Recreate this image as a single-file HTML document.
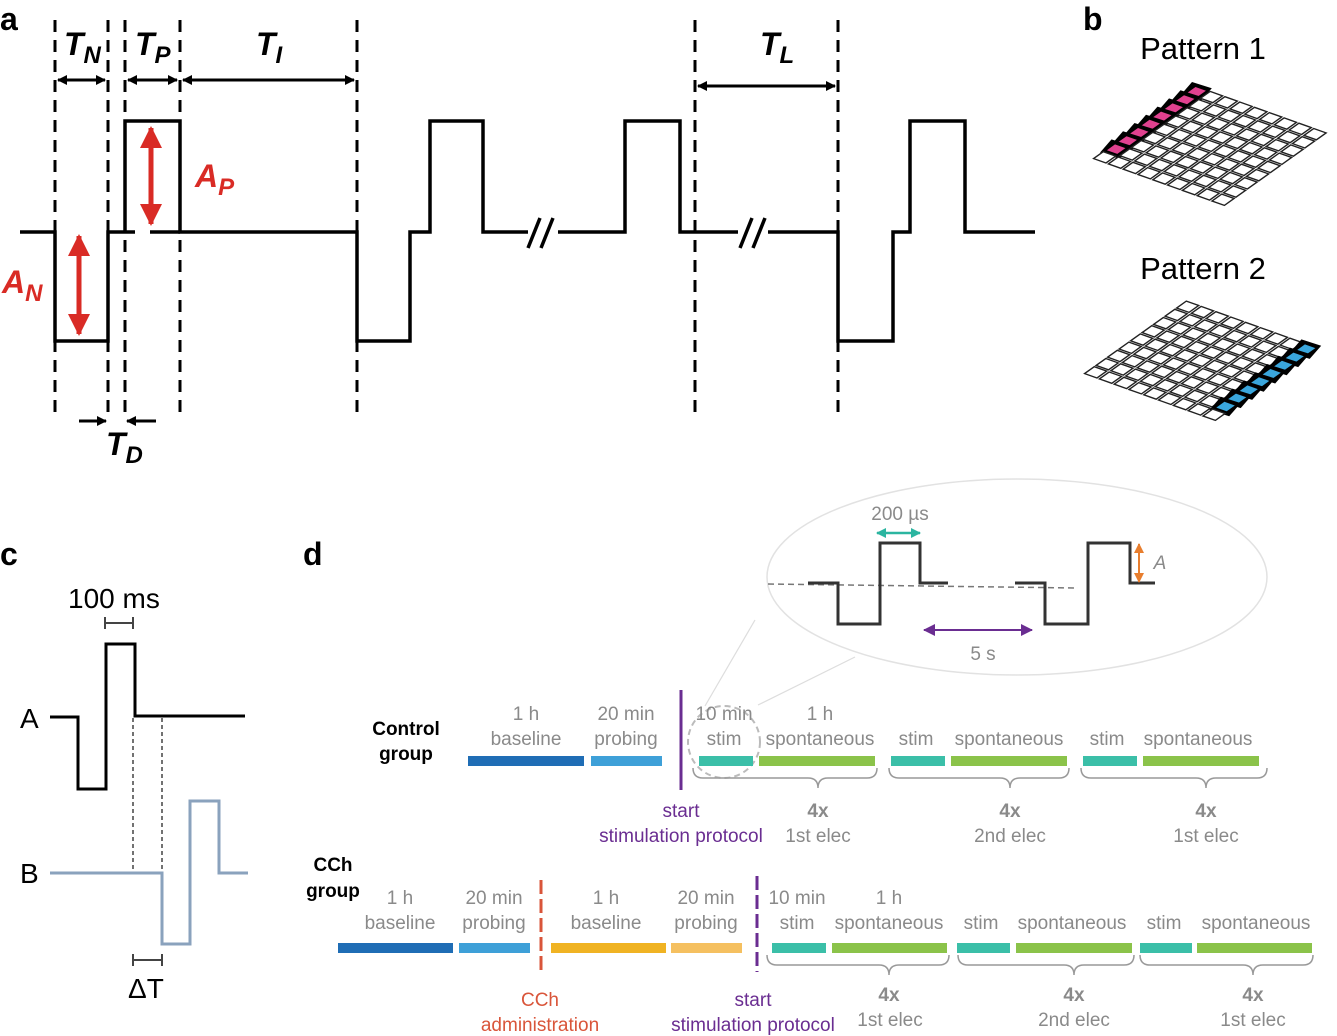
<!DOCTYPE html>
<html><head><meta charset="utf-8"><style>
html,body{margin:0;padding:0;background:#fff;}
svg{display:block;font-family:"Liberation Sans",sans-serif;}
.g{fill:#8a8a8a;font-size:19px;text-anchor:middle;}
.bi{font-weight:bold;font-style:italic;}
</style></head><body>
<svg id="s" width="1337" height="1036" viewBox="0 0 1337 1036" xmlns="http://www.w3.org/2000/svg">
<defs>
<marker id="ak" markerWidth="10" markerHeight="10" refX="9" refY="5" orient="auto-start-reverse" markerUnits="userSpaceOnUse"><path d="M0,0 L10,5 L0,10 z" fill="#000"/></marker>
<marker id="ar" markerWidth="22" markerHeight="22" refX="20" refY="11" orient="auto-start-reverse" markerUnits="userSpaceOnUse"><path d="M0,0 L22,11 L0,22 z" fill="#d92b25"/></marker>
<marker id="at" markerWidth="10" markerHeight="10" refX="9" refY="5" orient="auto-start-reverse" markerUnits="userSpaceOnUse"><path d="M0,0 L10,5 L0,10 z" fill="#2bb5a0"/></marker>
<marker id="ao" markerWidth="10" markerHeight="10" refX="9" refY="5" orient="auto-start-reverse" markerUnits="userSpaceOnUse"><path d="M0,0 L10,5 L0,10 z" fill="#e87e2e"/></marker>
<marker id="ap" markerWidth="12" markerHeight="12" refX="11" refY="6" orient="auto-start-reverse" markerUnits="userSpaceOnUse"><path d="M0,0 L12,6 L0,12 z" fill="#6a2d91"/></marker>
</defs>
<!-- panel a -->
<text x="0" y="30" font-size="32" font-weight="bold">a</text>
<g stroke="#000" stroke-width="3" stroke-dasharray="12,8" fill="none">
<line x1="55" y1="20" x2="55" y2="415"/><line x1="108" y1="20" x2="108" y2="415"/>
<line x1="125" y1="20" x2="125" y2="415"/><line x1="180" y1="20" x2="180" y2="415"/>
<line x1="357" y1="20" x2="357" y2="415"/><line x1="695" y1="20" x2="695" y2="415"/>
<line x1="838" y1="20" x2="838" y2="415"/>
</g>
<g stroke="#000" stroke-width="3.5" fill="none">
<path d="M20,232 H55 V341 H108 V232 H135 M150,232 H180"/>
<path d="M125,232 V121 H180 V232 H357 V341 H410 V232 H430 V121 H483 V232 H528"/>
<path d="M558,232 H625 V121 H680 V232 H738 M768,232 H838 V341 H893 V232 H910 V121 H965 V232 H1035"/>
<path d="M528,248 L540,218 M541,248 L553,218 M740,248 L752,218 M753,248 L765,218"/>
</g>
<g stroke="#000" stroke-width="3" fill="none">
<line x1="58" y1="80" x2="105" y2="80" marker-start="url(#ak)" marker-end="url(#ak)"/>
<line x1="128" y1="80" x2="177" y2="80" marker-start="url(#ak)" marker-end="url(#ak)"/>
<line x1="183" y1="80" x2="354" y2="80" marker-start="url(#ak)" marker-end="url(#ak)"/>
<line x1="698" y1="86" x2="835" y2="86" marker-start="url(#ak)" marker-end="url(#ak)"/>
<line x1="79" y1="421" x2="106" y2="421" marker-end="url(#ak)"/>
<line x1="156" y1="421" x2="127" y2="421" marker-end="url(#ak)"/>
</g>
<g stroke="#d92b25" stroke-width="5">
<line x1="151" y1="128" x2="151" y2="224" marker-start="url(#ar)" marker-end="url(#ar)"/>
<line x1="79" y1="236" x2="79" y2="334" marker-start="url(#ar)" marker-end="url(#ar)"/>
</g>
<text x="64" y="55" font-size="32" class="bi">T<tspan font-size="24" dy="8">N</tspan></text>
<text x="135" y="55" font-size="32" class="bi">T<tspan font-size="24" dy="8">P</tspan></text>
<text x="256" y="55" font-size="32" class="bi">T<tspan font-size="24" dy="8">I</tspan></text>
<text x="760" y="55" font-size="32" class="bi">T<tspan font-size="24" dy="8">L</tspan></text>
<text x="106" y="455" font-size="32" class="bi">T<tspan font-size="24" dy="8">D</tspan></text>
<text x="195" y="187" font-size="32" class="bi" fill="#d92b25">A<tspan font-size="24" dy="8">P</tspan></text>
<text x="2" y="293" font-size="32" class="bi" fill="#d92b25">A<tspan font-size="24" dy="8">N</tspan></text>
<!-- panel b -->
<text x="1083" y="30" font-size="32" font-weight="bold">b</text>
<text x="1203" y="59" font-size="31" text-anchor="middle">Pattern 1</text>
<text x="1203" y="279" font-size="31" text-anchor="middle">Pattern 2</text>
<g id="grids"></g>
<!-- panel c -->
<text x="0" y="565" font-size="32" font-weight="bold">c</text>
<text x="68" y="608" font-size="28">100 ms</text>
<g stroke="#444" stroke-width="2"><line x1="105" y1="623" x2="133" y2="623"/><line x1="105" y1="617" x2="105" y2="629"/><line x1="133" y1="617" x2="133" y2="629"/>
<line x1="133" y1="960" x2="162" y2="960"/><line x1="133" y1="954" x2="133" y2="966"/><line x1="162" y1="954" x2="162" y2="966"/></g>
<path d="M50,717 H78 V789 H106 V644 H135 V716 H245" stroke="#000" stroke-width="3" fill="none"/>
<path d="M50,873 H162 V944 H190 V801 H219 V873 H248" stroke="#8aa2bd" stroke-width="3" fill="none"/>
<g stroke="#444" stroke-width="1.5" stroke-dasharray="4,3"><line x1="133" y1="718" x2="133" y2="872"/><line x1="162" y1="718" x2="162" y2="872"/></g>
<text x="20" y="728" font-size="28">A</text>
<text x="20" y="883" font-size="28">B</text>
<text x="128" y="998" font-size="28">ΔT</text>
<!-- panel d -->
<text x="303" y="565" font-size="32" font-weight="bold">d</text>
<ellipse cx="1017" cy="577" rx="250" ry="98" fill="none" stroke="#e2e2e2" stroke-width="1.5"/>
<line x1="705" y1="706" x2="755" y2="620" stroke="#ddd" stroke-width="1.2"/>
<line x1="758" y1="705" x2="855" y2="657" stroke="#ddd" stroke-width="1.2"/>
<circle cx="724" cy="742" r="36" fill="none" stroke="#bbb" stroke-width="2" stroke-dasharray="6,4"/>
<line x1="768" y1="584" x2="1078" y2="588" stroke="#777" stroke-width="1.5" stroke-dasharray="6,4"/>
<g stroke="#333" stroke-width="3" fill="none">
<path d="M808,583 H838 V624 H880 V543 H920 V583 H948"/>
<path d="M1015,583 H1045 V624 H1088 V543 H1130 V583 H1155"/>
</g>
<line x1="877" y1="533" x2="920" y2="533" stroke="#2bb5a0" stroke-width="2.5" marker-start="url(#at)" marker-end="url(#at)"/>
<line x1="1139" y1="544" x2="1139" y2="582" stroke="#e87e2e" stroke-width="2" marker-start="url(#ao)" marker-end="url(#ao)"/>
<line x1="924" y1="630" x2="1032" y2="630" stroke="#6a2d91" stroke-width="2" marker-start="url(#ap)" marker-end="url(#ap)"/>
<text x="900" y="520" class="g">200 µs</text>
<text x="1160" y="569" class="g" font-style="italic">A</text>
<text x="983" y="660" class="g">5 s</text>
<!-- control bars -->
<g>
<rect x="468" y="756" width="116" height="10" fill="#1f6db5"/>
<rect x="591" y="756" width="71" height="10" fill="#3ea0d8"/>
<rect x="699" y="756" width="54" height="10" fill="#3bbfa8"/>
<rect x="759" y="756" width="116" height="10" fill="#8bc34a"/>
<rect x="891" y="756" width="54" height="10" fill="#3bbfa8"/>
<rect x="951" y="756" width="116" height="10" fill="#8bc34a"/>
<rect x="1083" y="756" width="54" height="10" fill="#3bbfa8"/>
<rect x="1143" y="756" width="116" height="10" fill="#8bc34a"/>
<line x1="681" y1="690" x2="681" y2="790" stroke="#6a2d91" stroke-width="3"/>
</g>
<g stroke="#999" stroke-width="1.5" fill="none">
<path d="M693,768 q0,10 10,10 H808 q10,0 10,10 q0,-10 10,-10 H867 q10,0 10,-10"/>
<path d="M889,768 q0,10 10,10 H1000 q10,0 10,10 q0,-10 10,-10 H1059 q10,0 10,-10"/>
<path d="M1081,768 q0,10 10,10 H1196 q10,0 10,10 q0,-10 10,-10 H1257 q10,0 10,-10"/>
<path d="M767,955 q0,10 10,10 H879 q10,0 10,10 q0,-10 10,-10 H939 q10,0 10,-10"/>
<path d="M958,955 q0,10 10,10 H1064 q10,0 10,10 q0,-10 10,-10 H1124 q10,0 10,-10"/>
<path d="M1140,955 q0,10 10,10 H1243 q10,0 10,10 q0,-10 10,-10 H1303 q10,0 10,-10"/>
</g>
<text x="406" y="735" font-size="19" font-weight="bold" text-anchor="middle">Control</text>
<text x="406" y="760" font-size="19" font-weight="bold" text-anchor="middle">group</text>
<text x="526" y="720" class="g">1 h</text><text x="526" y="745" class="g">baseline</text>
<text x="626" y="720" class="g">20 min</text><text x="626" y="745" class="g">probing</text>
<text x="724" y="720" class="g">10 min</text><text x="724" y="745" class="g">stim</text>
<text x="820" y="720" class="g">1 h</text><text x="820" y="745" class="g">spontaneous</text>
<text x="916" y="745" class="g">stim</text><text x="1009" y="745" class="g">spontaneous</text>
<text x="1107" y="745" class="g">stim</text><text x="1198" y="745" class="g">spontaneous</text>
<text x="818" y="817" class="g" font-weight="bold">4x</text><text x="818" y="842" class="g">1st elec</text>
<text x="1010" y="817" class="g" font-weight="bold">4x</text><text x="1010" y="842" class="g">2nd elec</text>
<text x="1206" y="817" class="g" font-weight="bold">4x</text><text x="1206" y="842" class="g">1st elec</text>
<text x="681" y="817" class="g" style="fill:#6a2d91">start</text>
<text x="681" y="842" class="g" style="fill:#6a2d91">stimulation protocol</text>
<!-- CCh bars -->
<rect x="338" y="943" width="115" height="10" fill="#1f6db5"/>
<rect x="459" y="943" width="71" height="10" fill="#3ea0d8"/>
<rect x="551" y="943" width="115" height="10" fill="#f0b323"/>
<rect x="671" y="943" width="71" height="10" fill="#f5c060"/>
<rect x="772" y="943" width="54" height="10" fill="#3bbfa8"/>
<rect x="832" y="943" width="115" height="10" fill="#8bc34a"/>
<rect x="957" y="943" width="53" height="10" fill="#3bbfa8"/>
<rect x="1016" y="943" width="116" height="10" fill="#8bc34a"/>
<rect x="1140" y="943" width="52" height="10" fill="#3bbfa8"/>
<rect x="1197" y="943" width="115" height="10" fill="#8bc34a"/>
<line x1="541" y1="880" x2="541" y2="975" stroke="#d9553a" stroke-width="3" stroke-dasharray="14,5"/>
<line x1="757" y1="876" x2="757" y2="972" stroke="#6a2d91" stroke-width="3" stroke-dasharray="14,5"/>
<text x="333" y="871" font-size="19" font-weight="bold" text-anchor="middle">CCh</text>
<text x="333" y="897" font-size="19" font-weight="bold" text-anchor="middle">group</text>
<text x="400" y="904" class="g">1 h</text><text x="400" y="929" class="g">baseline</text>
<text x="494" y="904" class="g">20 min</text><text x="494" y="929" class="g">probing</text>
<text x="606" y="904" class="g">1 h</text><text x="606" y="929" class="g">baseline</text>
<text x="706" y="904" class="g">20 min</text><text x="706" y="929" class="g">probing</text>
<text x="797" y="904" class="g">10 min</text><text x="797" y="929" class="g">stim</text>
<text x="889" y="904" class="g">1 h</text><text x="889" y="929" class="g">spontaneous</text>
<text x="981" y="929" class="g">stim</text><text x="1072" y="929" class="g">spontaneous</text>
<text x="1164" y="929" class="g">stim</text><text x="1256" y="929" class="g">spontaneous</text>
<text x="889" y="1001" class="g" font-weight="bold">4x</text><text x="890" y="1026" class="g">1st elec</text>
<text x="1074" y="1001" class="g" font-weight="bold">4x</text><text x="1074" y="1026" class="g">2nd elec</text>
<text x="1253" y="1001" class="g" font-weight="bold">4x</text><text x="1253" y="1026" class="g">1st elec</text>
<text x="540" y="1006" class="g" style="fill:#d9553a">CCh</text>
<text x="540" y="1031" class="g" style="fill:#d9553a">administration</text>
<text x="753" y="1006" class="g" style="fill:#6a2d91">start</text>
<text x="753" y="1031" class="g" style="fill:#6a2d91">stimulation protocol</text>
</svg>
<script>
(function(){
var g=document.getElementById('grids'),h='';
var cx=[14.8,5.3],rw=[-11.5,8.2];
function grid(ox,oy,hl,col){
 for(var r=0;r<9;r++)for(var c=0;c<9;c++){
  var x=ox+c*cx[0]+r*rw[0],y=oy+c*cx[1]+r*rw[1];
  var on=(c==hl&&r<8);
  if(on){h+='<polygon points="'+(x-3)+','+(y-3)+' '+(x+cx[0]+2)+','+(y+cx[1]-2)+' '+(x+cx[0]+rw[0]+2)+','+(y+cx[1]+rw[1]+3)+' '+(x+rw[0]-3)+','+(y+rw[1]+2)+'" fill="#000"/>';}
  var a=on?0.15:0.08,b=on?0.85:0.92;
  var p=[[a,a],[b,a],[b,b],[a,b]].map(function(q){return (x+q[0]*cx[0]+q[1]*rw[0]).toFixed(1)+','+(y+q[0]*cx[1]+q[1]*rw[1]).toFixed(1);}).join(' ');
  h+='<polygon points="'+p+'" fill="'+(on?col:'#fff')+'" stroke="'+(on?'none':'#222')+'" stroke-width="1.4"/>';
 }
}
grid(1195,85,0,'#e0418f');
grid(1186,300,8,'#3aa6dc');
g.innerHTML=h;
})();
</script>
</body></html>
